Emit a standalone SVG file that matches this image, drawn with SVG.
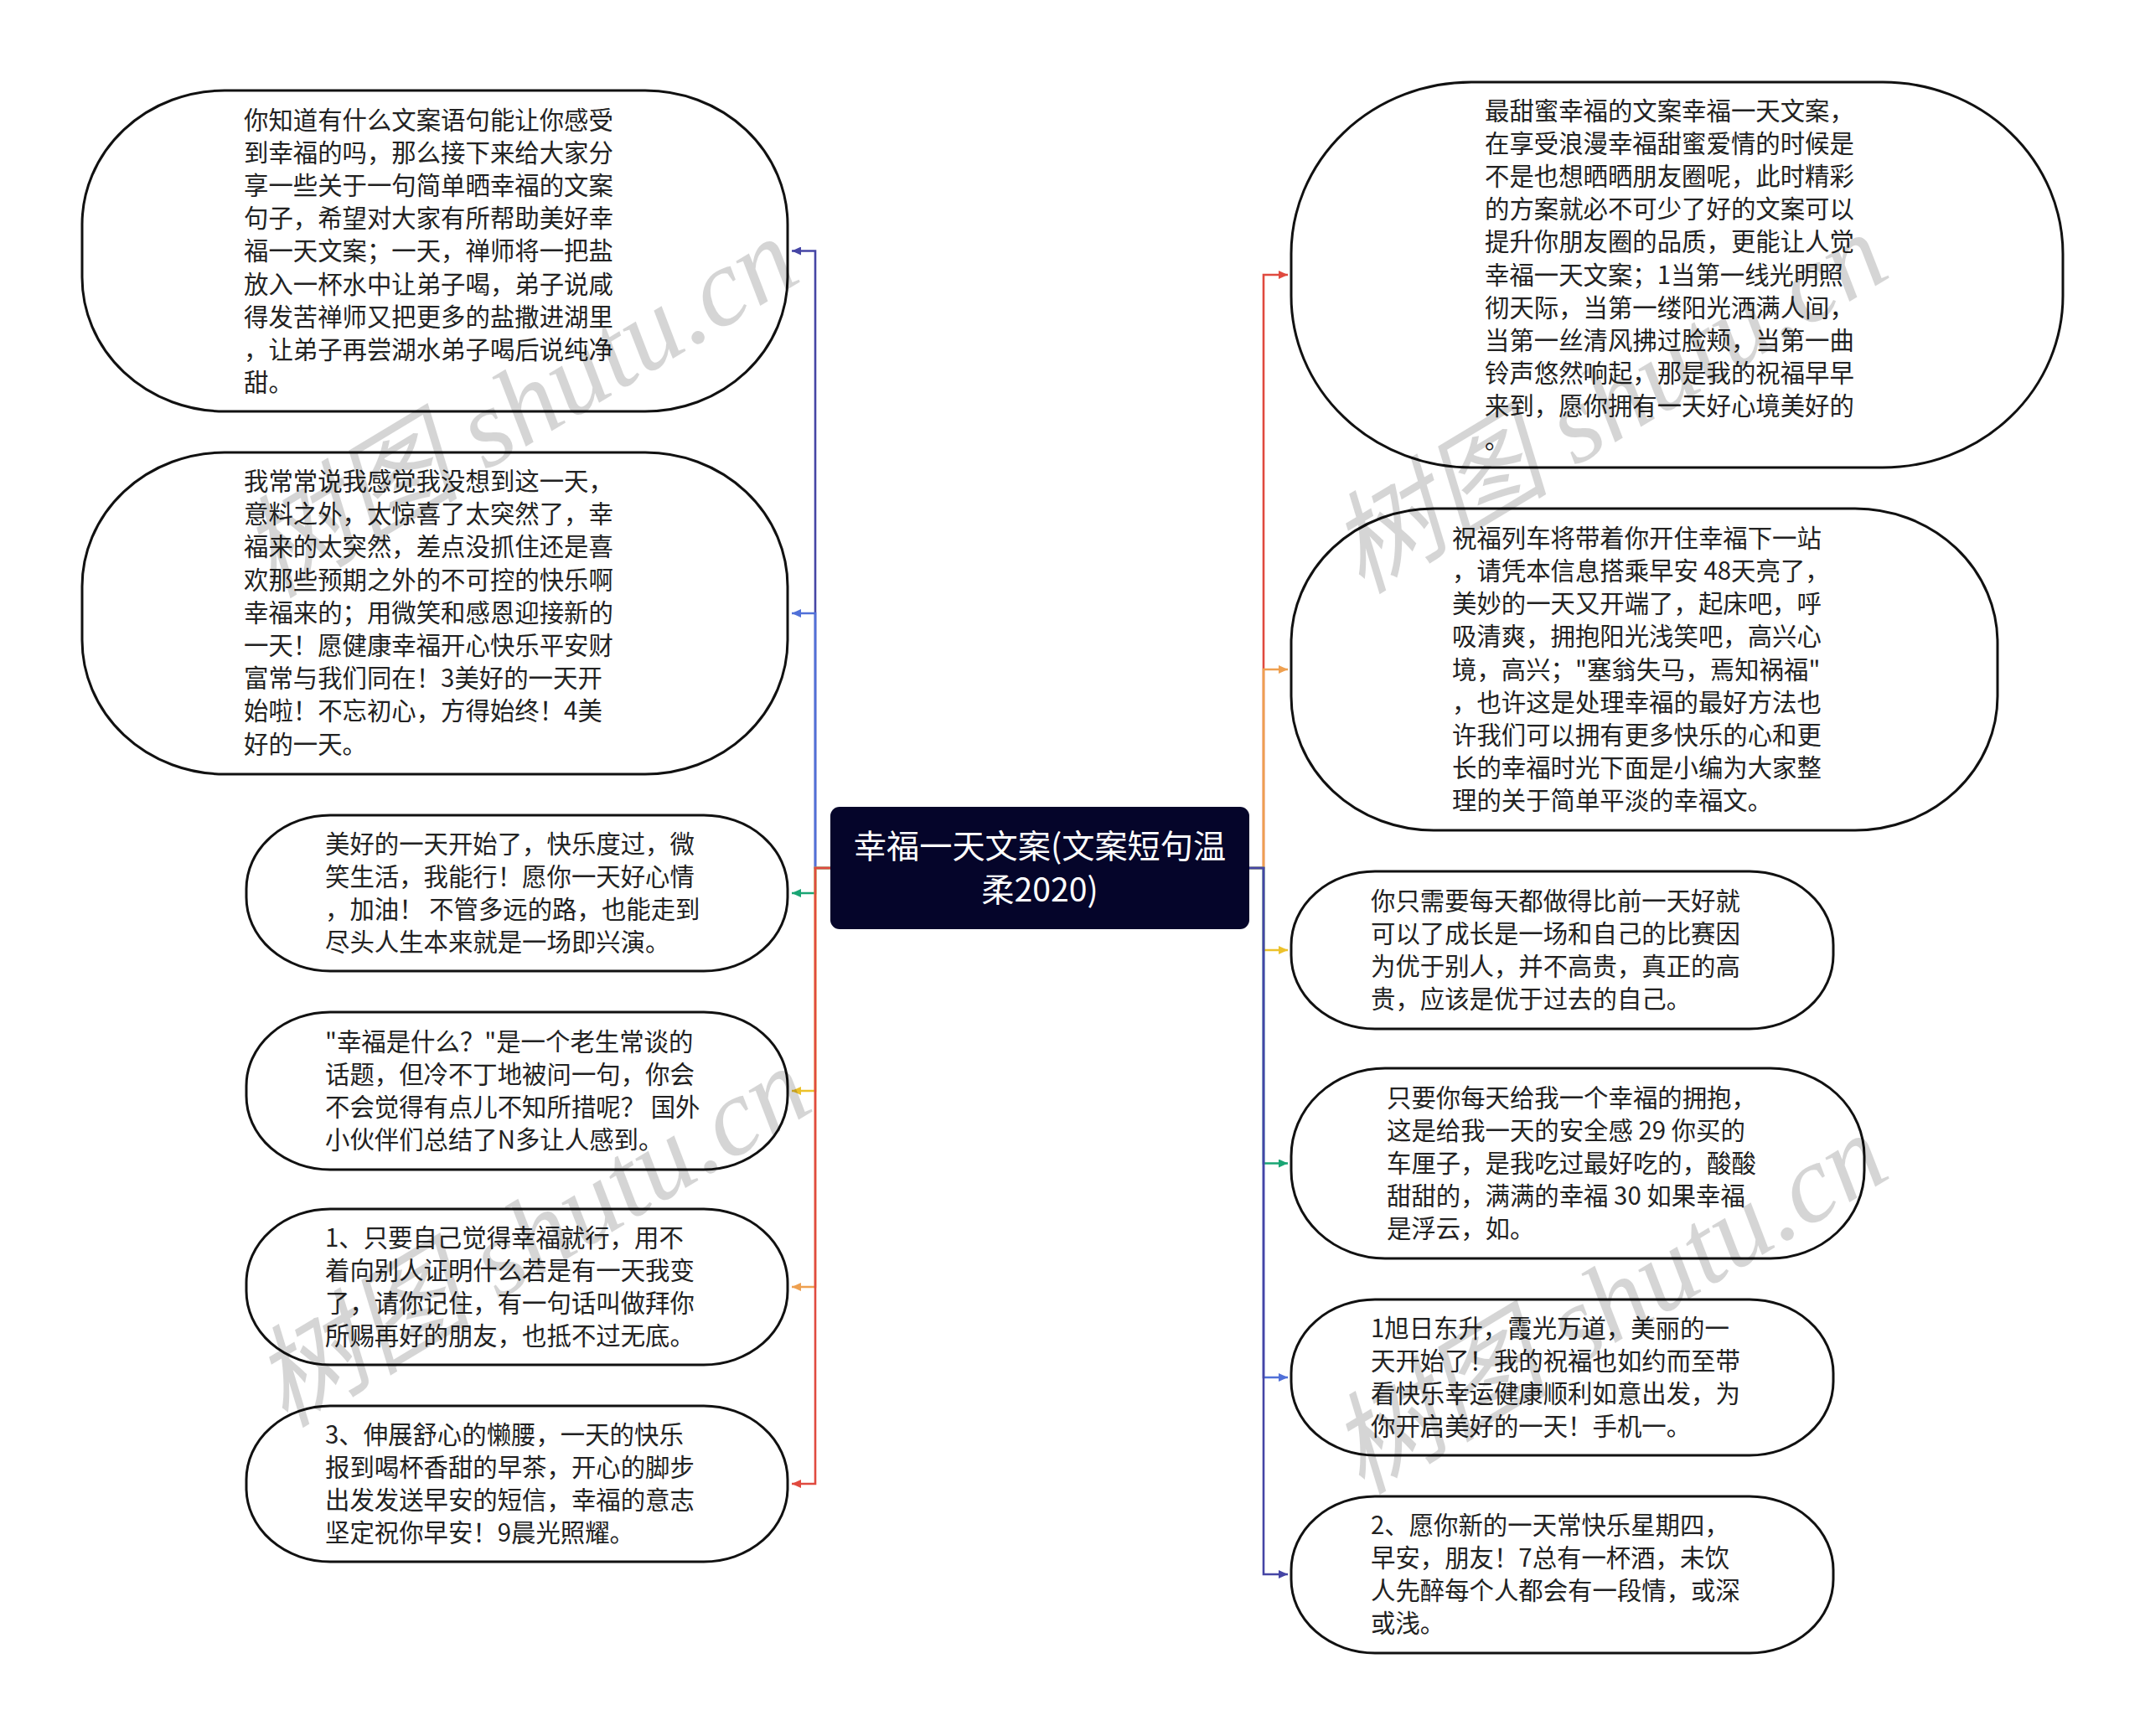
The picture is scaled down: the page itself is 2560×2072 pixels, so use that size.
<svg xmlns="http://www.w3.org/2000/svg" width="2560" height="2072" viewBox="0 0 2560 2072">
<style>
.node{fill:#ffffff;stroke:#111111;stroke-width:3}
.t{font-family:"Noto Sans CJK SC","Microsoft YaHei",sans-serif;font-size:29.4px;fill:#222222}
.ct{font-family:"Noto Sans CJK SC","Microsoft YaHei",sans-serif;font-size:39.2px;fill:#ffffff;text-anchor:middle}
.c{fill:none;stroke-width:2.6;stroke-linejoin:miter}
.wm{font-family:"Liberation Serif","Noto Sans CJK SC",serif;font-style:italic;font-size:132px;fill:#000000;opacity:0.16}
</style>
<defs>
<marker id="m-indigo" markerWidth="12" markerHeight="10" refX="11" refY="5" orient="auto" markerUnits="userSpaceOnUse"><path d="M0,0 L11,5 L0,10 z" fill="#4545a5"/></marker>
<marker id="m-blue" markerWidth="12" markerHeight="10" refX="11" refY="5" orient="auto" markerUnits="userSpaceOnUse"><path d="M0,0 L11,5 L0,10 z" fill="#5070d8"/></marker>
<marker id="m-green" markerWidth="12" markerHeight="10" refX="11" refY="5" orient="auto" markerUnits="userSpaceOnUse"><path d="M0,0 L11,5 L0,10 z" fill="#1aa574"/></marker>
<marker id="m-yellow" markerWidth="12" markerHeight="10" refX="11" refY="5" orient="auto" markerUnits="userSpaceOnUse"><path d="M0,0 L11,5 L0,10 z" fill="#ecc12a"/></marker>
<marker id="m-orange" markerWidth="12" markerHeight="10" refX="11" refY="5" orient="auto" markerUnits="userSpaceOnUse"><path d="M0,0 L11,5 L0,10 z" fill="#eea050"/></marker>
<marker id="m-red" markerWidth="12" markerHeight="10" refX="11" refY="5" orient="auto" markerUnits="userSpaceOnUse"><path d="M0,0 L11,5 L0,10 z" fill="#e04a3f"/></marker>
</defs>
<rect x="0" y="0" width="2560" height="2072" fill="#ffffff"/>

<g id="connectors">
<path class="c" stroke="#4545a5" marker-end="url(#m-indigo)" d="M991,1036 H973 V299.5 H945"/>
<path class="c" stroke="#5070d8" marker-end="url(#m-blue)" d="M991,1036 H973 V732 H945"/>
<path class="c" stroke="#1aa574" marker-end="url(#m-green)" d="M991,1036 H973 V1066 H945"/>
<path class="c" stroke="#ecc12a" marker-end="url(#m-yellow)" d="M991,1036 H973 V1302 H945"/>
<path class="c" stroke="#eea050" marker-end="url(#m-orange)" d="M991,1036 H973 V1536 H945"/>
<path class="c" stroke="#e04a3f" marker-end="url(#m-red)" d="M991,1036 H973 V1771 H945"/>
<path class="c" stroke="#e04a3f" marker-end="url(#m-red)" d="M1490,1036 H1508 V328 H1537"/>
<path class="c" stroke="#eea050" marker-end="url(#m-orange)" d="M1490,1036 H1508 V799 H1537"/>
<path class="c" stroke="#ecc12a" marker-end="url(#m-yellow)" d="M1490,1036 H1508 V1134 H1537"/>
<path class="c" stroke="#1aa574" marker-end="url(#m-green)" d="M1490,1036 H1508 V1388.5 H1537"/>
<path class="c" stroke="#5070d8" marker-end="url(#m-blue)" d="M1490,1036 H1508 V1644 H1537"/>
<path class="c" stroke="#4545a5" marker-end="url(#m-indigo)" d="M1490,1036 H1508 V1879 H1537"/>
</g>

<g id="center">
<rect x="991" y="963" width="500" height="146" rx="11" ry="11" fill="#05052a"/>
<text class="ct"><tspan x="1241" y="1024">幸福一天文案(文案短句温</tspan><tspan x="1241" y="1076">柔2020)</tspan></text>
</g>

<g id="L1">
<rect class="node" x="98" y="108" width="842" height="383" rx="170" ry="160"/>
<text class="t"><tspan x="291" y="153.5">你知道有什么文案语句能让你感受</tspan><tspan x="291" dy="39.2">到幸福的吗，那么接下来给大家分</tspan><tspan x="291" dy="39.2">享一些关于一句简单晒幸福的文案</tspan><tspan x="291" dy="39.2">句子，希望对大家有所帮助美好幸</tspan><tspan x="291" dy="39.2">福一天文案；一天，禅师将一把盐</tspan><tspan x="291" dy="39.2">放入一杯水中让弟子喝，弟子说咸</tspan><tspan x="291" dy="39.2">得发苦禅师又把更多的盐撒进湖里</tspan><tspan x="291" dy="39.2">，让弟子再尝湖水弟子喝后说纯净</tspan><tspan x="291" dy="39.2">甜。</tspan></text>
</g>

<g id="L2">
<rect class="node" x="98" y="540" width="842" height="384" rx="170" ry="160"/>
<text class="t"><tspan x="291" y="585">我常常说我感觉我没想到这一天，</tspan><tspan x="291" dy="39.2">意料之外，太惊喜了太突然了，幸</tspan><tspan x="291" dy="39.2">福来的太突然，差点没抓住还是喜</tspan><tspan x="291" dy="39.2">欢那些预期之外的不可控的快乐啊</tspan><tspan x="291" dy="39.2">幸福来的；用微笑和感恩迎接新的</tspan><tspan x="291" dy="39.2">一天！愿健康幸福开心快乐平安财</tspan><tspan x="291" dy="39.2">富常与我们同在！3美好的一天开</tspan><tspan x="291" dy="39.2">始啦！不忘初心，方得始终！4美</tspan><tspan x="291" dy="39.2">好的一天。</tspan></text>
</g>

<g id="L3">
<rect class="node" x="294" y="973" width="646" height="186" rx="100" ry="88"/>
<text class="t"><tspan x="388" y="1017.7">美好的一天开始了，快乐度过，微</tspan><tspan x="388" dy="39.2">笑生活，我能行！愿你一天好心情</tspan><tspan x="388" dy="39.2">，加油！ 不管多远的路，也能走到</tspan><tspan x="388" dy="39.2">尽头人生本来就是一场即兴演。</tspan></text>
</g>

<g id="L4">
<rect class="node" x="294" y="1208" width="646" height="188" rx="100" ry="88"/>
<text class="t"><tspan x="388" y="1253.7">"幸福是什么？"是一个老生常谈的</tspan><tspan x="388" dy="39.2">话题，但冷不丁地被问一句，你会</tspan><tspan x="388" dy="39.2">不会觉得有点儿不知所措呢？ 国外</tspan><tspan x="388" dy="39.2">小伙伴们总结了N多让人感到。</tspan></text>
</g>

<g id="L5">
<rect class="node" x="294" y="1443" width="646" height="186" rx="100" ry="88"/>
<text class="t"><tspan x="388" y="1487.7">1、只要自己觉得幸福就行，用不</tspan><tspan x="388" dy="39.2">着向别人证明什么若是有一天我变</tspan><tspan x="388" dy="39.2">了，请你记住，有一句话叫做拜你</tspan><tspan x="388" dy="39.2">所赐再好的朋友，也抵不过无底。</tspan></text>
</g>

<g id="L6">
<rect class="node" x="294" y="1678" width="646" height="186" rx="100" ry="88"/>
<text class="t"><tspan x="388" y="1722.7">3、伸展舒心的懒腰，一天的快乐</tspan><tspan x="388" dy="39.2">报到喝杯香甜的早茶，开心的脚步</tspan><tspan x="388" dy="39.2">出发发送早安的短信，幸福的意志</tspan><tspan x="388" dy="39.2">坚定祝你早安！9晨光照耀。</tspan></text>
</g>

<g id="R1">
<rect class="node" x="1541" y="98" width="921" height="460" rx="215" ry="205"/>
<text class="t"><tspan x="1772" y="142.5">最甜蜜幸福的文案幸福一天文案，</tspan><tspan x="1772" dy="39.2">在享受浪漫幸福甜蜜爱情的时候是</tspan><tspan x="1772" dy="39.2">不是也想晒晒朋友圈呢，此时精彩</tspan><tspan x="1772" dy="39.2">的方案就必不可少了好的文案可以</tspan><tspan x="1772" dy="39.2">提升你朋友圈的品质，更能让人觉</tspan><tspan x="1772" dy="39.2">幸福一天文案；1当第一线光明照</tspan><tspan x="1772" dy="39.2">彻天际，当第一缕阳光洒满人间，</tspan><tspan x="1772" dy="39.2">当第一丝清风拂过脸颊，当第一曲</tspan><tspan x="1772" dy="39.2">铃声悠然响起，那是我的祝福早早</tspan><tspan x="1772" dy="39.2">来到，愿你拥有一天好心境美好的</tspan><tspan x="1772" dy="39.2">。</tspan></text>
</g>

<g id="R2">
<rect class="node" x="1541" y="607" width="843" height="384" rx="170" ry="160"/>
<text class="t"><tspan x="1733" y="652.7">祝福列车将带着你开住幸福下一站</tspan><tspan x="1733" dy="39.2">，请凭本信息搭乘早安 48天亮了，</tspan><tspan x="1733" dy="39.2">美妙的一天又开端了，起床吧，呼</tspan><tspan x="1733" dy="39.2">吸清爽，拥抱阳光浅笑吧，高兴心</tspan><tspan x="1733" dy="39.2">境，高兴；"塞翁失马，焉知祸福"</tspan><tspan x="1733" dy="39.2">，也许这是处理幸福的最好方法也</tspan><tspan x="1733" dy="39.2">许我们可以拥有更多快乐的心和更</tspan><tspan x="1733" dy="39.2">长的幸福时光下面是小编为大家整</tspan><tspan x="1733" dy="39.2">理的关于简单平淡的幸福文。</tspan></text>
</g>

<g id="R3">
<rect class="node" x="1541" y="1040" width="647" height="188" rx="100" ry="88"/>
<text class="t"><tspan x="1636" y="1085.7">你只需要每天都做得比前一天好就</tspan><tspan x="1636" dy="39.2">可以了成长是一场和自己的比赛因</tspan><tspan x="1636" dy="39.2">为优于别人，并不高贵，真正的高</tspan><tspan x="1636" dy="39.2">贵，应该是优于过去的自己。</tspan></text>
</g>

<g id="R4">
<rect class="node" x="1541" y="1275" width="684" height="227" rx="112" ry="105"/>
<text class="t"><tspan x="1655" y="1320.6">只要你每天给我一个幸福的拥抱，</tspan><tspan x="1655" dy="39.2">这是给我一天的安全感 29 你买的</tspan><tspan x="1655" dy="39.2">车厘子，是我吃过最好吃的，酸酸</tspan><tspan x="1655" dy="39.2">甜甜的，满满的幸福 30 如果幸福</tspan><tspan x="1655" dy="39.2">是浮云，如。</tspan></text>
</g>

<g id="R5">
<rect class="node" x="1541" y="1551" width="647" height="186" rx="100" ry="88"/>
<text class="t"><tspan x="1636" y="1595.7">1旭日东升，霞光万道，美丽的一</tspan><tspan x="1636" dy="39.2">天开始了！我的祝福也如约而至带</tspan><tspan x="1636" dy="39.2">看快乐幸运健康顺利如意出发，为</tspan><tspan x="1636" dy="39.2">你开启美好的一天！手机一。</tspan></text>
</g>

<g id="R6">
<rect class="node" x="1541" y="1786" width="647" height="187" rx="100" ry="88"/>
<text class="t"><tspan x="1636" y="1830.7">2、愿你新的一天常快乐星期四，</tspan><tspan x="1636" dy="39.2">早安，朋友！7总有一杯酒，未饮</tspan><tspan x="1636" dy="39.2">人先醉每个人都会有一段情，或深</tspan><tspan x="1636" dy="39.2">或浅。</tspan></text>
</g>

<g id="watermark">
<text class="wm" transform="translate(325,715) rotate(-31)">树图 shutu.cn</text>
<text class="wm" transform="translate(1625,710) rotate(-31)">树图 shutu.cn</text>
<text class="wm" transform="translate(340,1705) rotate(-31)">树图 shutu.cn</text>
<text class="wm" transform="translate(1625,1785) rotate(-31)">树图 shutu.cn</text>
</g>
</svg>
